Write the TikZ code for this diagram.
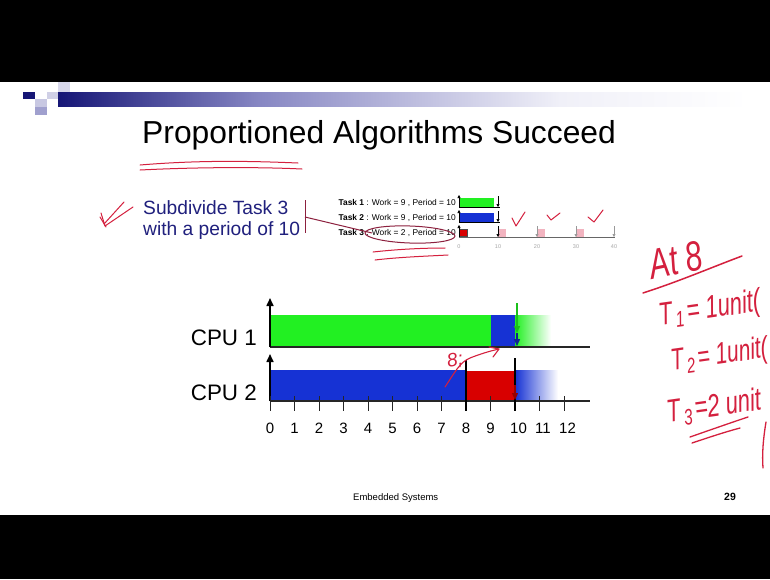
\documentclass[tikz,border=0pt]{standalone}
\usepackage{fontspec}
\setmainfont{Liberation Sans}
\usetikzlibrary{arrows.meta}

\definecolor{cpugreen}{RGB}{34,240,34}
\definecolor{cpublue}{RGB}{22,50,212}
\definecolor{cpured}{RGB}{216,0,0}
\definecolor{navytext}{RGB}{32,32,125}
\definecolor{penred}{RGB}{212,32,62}
\definecolor{maroon}{RGB}{140,32,62}
\definecolor{barnavy}{RGB}{22,22,118}
\definecolor{barmid}{RGB}{135,135,195}
\definecolor{barlight}{RGB}{240,240,248}
\definecolor{sqA}{RGB}{200,200,226}
\definecolor{sqB}{RGB}{160,160,206}
\definecolor{pinkbox}{RGB}{242,180,192}

\newcommand{\fs}[1]{\fontsize{#1}{#1}\selectfont}

\begin{document}
\begin{tikzpicture}[x=1pt,y=-1pt,
  pen/.style={draw=penred,line width=1.3pt,line cap=round,line join=round},
  axisline/.style={draw=black!85,line width=1.3pt},
  upaxis/.style={draw=black,line width=1.6pt,-{Triangle[length=8pt,width=7pt]}},
  smallup/.style={draw=black,line width=0.6pt,-{Triangle[length=3pt,width=3pt]}},
  smalldown/.style={line width=0.6pt,-{Triangle[length=3pt,width=3pt]}},
  tasklab/.style={anchor=east,inner sep=0pt,font=\fs{8.4}},
  smalltick/.style={inner sep=0pt,text=black!35,font=\fs{5.5}},
  ticklab/.style={inner sep=0pt,font=\fs{15}},
  cpulab/.style={anchor=east,inner sep=0pt,font=\fs{22.4}},
  hand/.style={inner sep=0pt,text=penred,font=\itshape}
]
\useasboundingbox (0,0) rectangle (770,579);
\fill[black] (0,0) rectangle (770,579);
\fill[white] (0,82) rectangle (770,515);

% header bar and squares
\shade[left color=barnavy,right color=barmid] (58,92) rectangle (260,106);
\shade[left color=barmid,right color=barlight] (260,92) rectangle (560,106);
\shade[left color=barlight,right color=white] (560,92) rectangle (748,106);
\fill[barnavy] (23,92) rectangle (35,99);
\fill[sqA] (35,99) rectangle (47,107);
\fill[sqA!85] (47,92) rectangle (58,99);
\fill[sqA!70] (58,82) rectangle (70,92);
\fill[sqB] (35,107) rectangle (47,115);

% title
\node[anchor=base west,inner sep=0pt,font=\fs{31.8}] (title) at (142,143) {Proportioned Algorithms Succeed};
\draw[pen,line width=1pt] (140,165) .. controls (200,160) and (250,161) .. (298,163);
\draw[pen,line width=1pt] (140,170) .. controls (200,167) and (260,167) .. (302,169);

% note on the left
\node[anchor=base west,inner sep=0pt,text=navytext,font=\fs{19.2}] (sub1) at (143,214) {Subdivide Task 3};
\node[anchor=base west,inner sep=0pt,text=navytext,font=\fs{19.2}] (sub2) at (143,235) {with a period of 10};
\draw[pen,line width=1pt] (101,213) -- (105,226) -- (133,207);
\draw[pen,line width=1pt] (124,202) -- (104,224);
\draw[pen,line width=1pt] (100,217) -- (106,227);

% small task chart
\node[tasklab] (task1) at (456,203) {\textbf{Task 1} : Work = 9 , Period = 10};
\node[tasklab] (task2) at (456,218) {\textbf{Task 2} : Work = 9 , Period = 10};
\node[tasklab] (task3) at (456,233) {\textbf{Task 3} : Work = 2 , Period = 10};

\fill[cpugreen] (459,198) rectangle (494,206.5);
\fill[cpublue] (459,213) rectangle (494,221.5);
\fill[cpured] (459,229) rectangle (467,236.5);
\draw[black!70,line width=0.5pt] (459,229) rectangle (467,236.5);
\foreach \x in {498,537,576} \fill[pinkbox] (\x,229) rectangle (\x+8,236.5);
\draw[black,line width=0.6pt] (459,207) -- (500,207);
\draw[black,line width=0.6pt] (459,222) -- (500,222);
\draw[black!60,line width=0.6pt] (459,237) -- (615,237);
\draw[smallup] (459,207) -- (459,195);
\draw[smallup] (459,222) -- (459,210);
\draw[smallup] (459,237) -- (459,225);
\draw[smalldown,draw=black] (498,196) -- (498,207);
\draw[smalldown,draw=black] (498,211) -- (498,222);
\draw[smalldown,draw=black] (498,226) -- (498,237);
\foreach \x in {537,576,614} \draw[smalldown,draw=black!40] (\x,226) -- (\x,237);
\node[smalltick] (s0) at (459,247) {0};
\node[smalltick] (s10) at (498,247) {10};
\node[smalltick] (s20) at (537,247) {20};
\node[smalltick] (s30) at (576,247) {30};
\node[smalltick] (s40) at (614,247) {40};

% annotations on the small chart
\draw[maroon,line width=1pt] (305,200) -- (305,233);
\draw[maroon,line width=1pt] (305,217) -- (372,233);
\draw[maroon,line width=1pt,rotate around={-2:(410,234.5)}] (410,234.5) ellipse [x radius=45,y radius=8.5];
\draw[pen,line width=1pt] (373,252) .. controls (400,249) and (425,248) .. (445,248);
\draw[pen,line width=1pt] (375,260) .. controls (400,257) and (430,256) .. (448,255);
\draw[pen,line width=1pt] (512,218) -- (516,226) -- (525,212);
\draw[pen,line width=1pt] (547,215) -- (551,220) -- (560,213);
\draw[pen,line width=1pt] (588,217) -- (594,222) -- (603,210);

% CPU 1
\node[cpulab] (cpu1) at (257,338) {CPU 1};
\fill[cpugreen] (271,315) rectangle (490.5,346);
\fill[cpublue] (490.5,315) rectangle (515,346);
\shade[left color=cpugreen,right color=white] (515,315) rectangle (551,346);
\draw[axisline] (270,347) -- (590,347);
\draw[upaxis] (270,347) -- (270,298);
\draw[cpugreen!80!black,line width=1.4pt,-{Triangle[length=7pt,width=6pt]}] (517,303) -- (517,333);
\draw[cpublue!70!black,line width=1.4pt,-{Triangle[length=7pt,width=6pt]}] (517,333) -- (517,346);

% CPU 2
\node[cpulab] (cpu2) at (257,393) {CPU 2};
\fill[cpublue] (271,370) rectangle (466,400);
\fill[cpured] (466,371) rectangle (515,400);
\shade[left color=cpublue,right color=white] (515,370) rectangle (558,400);
\draw[axisline] (270,401) -- (590,401);
\draw[upaxis] (270,401) -- (270,354);
\foreach \k in {0,...,12} {
  \draw[black!85,line width=1pt] ({270+24.5*\k},396) -- ({270+24.5*\k},411);
  \pgfmathsetmacro\dx{\k>9 ? 3.5 : 0}
  \node[ticklab] (t\k) at ({270+24.5*\k+\dx},428) {\k};
}
\draw[black,line width=2pt] (466,360) -- (466,411);
\draw[black,line width=2pt] (515,358) -- (515,411);
\draw[cpured!70!black,line width=1.2pt,-{Triangle[length=7pt,width=6pt]}] (515,385) -- (515,400);

% handwriting on the chart
\node[hand,font=\itshape\fs{19},rotate=10] (eight) at (455,361) {8;};
\draw[pen,line width=1.1pt] (445,387) .. controls (455,372) and (460,362) .. (470,358)
  .. controls (480,354) and (490,351) .. (499,349);
\draw[pen,line width=1.1pt] (489,347) -- (499,349) -- (493,357);

% handwriting on the right
\node[hand,font=\itshape\fs{30},rotate=12,yscale=1.4] (at8) at (676,260) {At 8};
\draw[pen,line width=1.5pt] (643,293) .. controls (680,281) and (710,268) .. (742,256);
\node[hand,anchor=west,font=\itshape\fs{22},rotate=8,yscale=1.45] (T1) at (659,317) {T\textsubscript{\,1}\kern3pt= 1unit(};
\node[hand,anchor=west,font=\itshape\fs{21},rotate=8,yscale=1.45] (T2) at (671,363) {T\textsubscript{\,2}\kern3pt= 1unit(};
\node[hand,anchor=west,font=\itshape\fs{22},rotate=8,yscale=1.45] (T3) at (667,414) {T\textsubscript{\,3}\kern3pt=2 unit};
\draw[pen,line width=1.3pt] (690,437) .. controls (710,430) and (730,423) .. (748,417);
\draw[pen,line width=1.3pt] (692,443) .. controls (710,437) and (725,432) .. (740,428);
\draw[pen,line width=1.3pt] (766,422) .. controls (763,440) and (762,455) .. (763,468);

% footer
\node[anchor=base west,inner sep=0pt,font=\fs{9.5}] (footer) at (353,500) {Embedded Systems};
\node[anchor=base west,inner sep=0pt,font=\bfseries\fs{10.5}] (pageno) at (724,500) {29};
\end{tikzpicture}
\end{document}
